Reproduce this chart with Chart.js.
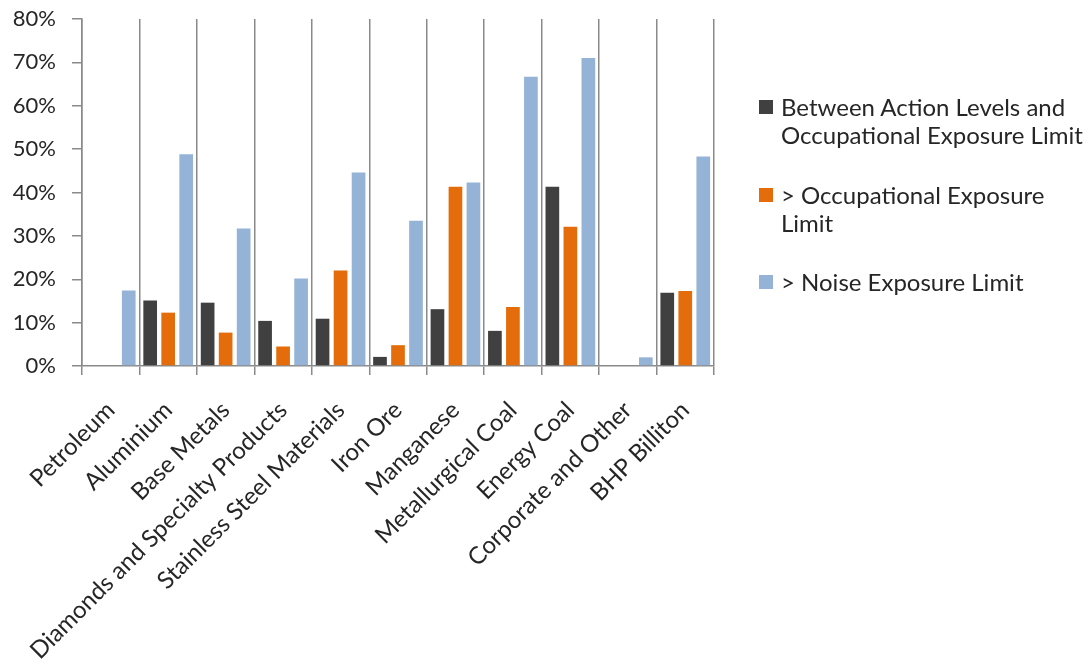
<!DOCTYPE html>
<html>
<head>
<meta charset="utf-8">
<script src="https://cdn.jsdelivr.net/npm/chart.js@4/dist/chart.umd.min.js"></script>
<style>
  html, body { margin: 0; padding: 0; background: #fff; }
  #wrap { position: relative; width: 1089px; height: 664px; }
  #chart { position: absolute; left: 0; top: 0; }
  #legend {
    position: absolute; left: 759px; top: 93px;
    font-family: Lato, "DejaVu Sans", sans-serif; font-size: 24px;
    line-height: 28px; color: #262626;
  }
  .item { position: relative; padding-left: 22px; margin-bottom: 31.5px; white-space: nowrap; }
  .box { position: absolute; left: 0; top: 7px; width: 14px; height: 14px; }
</style>
</head>
<body>
<div id="wrap">
  <canvas id="chart" width="1089" height="664"></canvas>
  <div id="legend"></div>
</div>
<script>
// Business units along the x axis
const categories = [
  'Petroleum', 'Aluminium', 'Base Metals', 'Diamonds and Specialty Products',
  'Stainless Steel Materials', 'Iron Ore', 'Manganese', 'Metallurgical Coal',
  'Energy Coal', 'Corporate and Other', 'BHP Billiton'
];

// Series names, split into the lines shown in the legend
const seriesNames = [
  ['Between Action Levels and', 'Occupational Exposure Limit'],
  ['> Occupational Exposure', 'Limit'],
  ['> Noise Exposure Limit']
];

// Share of workforce (%) per exposure band
const betweenActionAndOEL = [0, 15.1, 14.6, 10.4, 10.9, 2.1, 13.1, 8.1, 41.3, 0, 16.9];
const aboveOEL            = [0, 12.3, 7.7, 4.5, 22.0, 4.8, 41.3, 13.6, 32.1, 0, 17.3];
const aboveNoiseLimit     = [17.4, 48.8, 31.7, 20.2, 44.6, 33.5, 42.3, 66.7, 71.0, 2.0, 48.3];

// Y axis ticks (%)
const yTicks = [0, 10, 20, 30, 40, 50, 60, 70, 80];

const seriesColors = ['#404040', '#E46C0A', '#95B3D7'];
const axisGray = '#8a8a8a';
const fontFamily = 'Lato, "DejaVu Sans", sans-serif';

const seriesValues = [betweenActionAndOEL, aboveOEL, aboveNoiseLimit];

const chart = new Chart(document.getElementById('chart'), {
  type: 'bar',
  data: {
    labels: categories,
    datasets: seriesValues.map((vals, i) => ({
      label: seriesNames[i].join(' '),
      data: vals,
      backgroundColor: seriesColors[i],
      borderWidth: 0,
      categoryPercentage: 0.94,
      barPercentage: 0.76
    }))
  },
  options: {
    responsive: false,
    animation: false,
    devicePixelRatio: 1,
    layout: { padding: { top: 19, right: 375, left: 0, bottom: 0 } },
    plugins: { legend: { display: false }, tooltip: { enabled: false } },
    scales: {
      x: {
        offset: true,
        grid: {
          offset: true, color: axisGray, lineWidth: 1.5,
          drawOnChartArea: true, drawTicks: true, tickLength: 9
        },
        border: { display: true, color: axisGray, width: 1.5 },
        ticks: {
          minRotation: 45, maxRotation: 45, autoSkip: false,
          color: '#262626', padding: 21,
          font: { family: fontFamily, size: 24 }
        },
        afterFit(scale) { scale.height = 298; scale.paddingTop = 0; scale.paddingBottom = 0; }
      },
      y: {
        min: 0, max: 80,
        afterBuildTicks(scale) { scale.ticks = yTicks.map(v => ({ value: v })); },
        grid: {
          drawOnChartArea: false, drawTicks: true, tickLength: 10,
          color: axisGray, lineWidth: 1.5
        },
        border: { display: true, color: axisGray, width: 1.5 },
        ticks: {
          color: '#262626', padding: 16,
          font: { family: fontFamily, size: 22 },
          callback: v => v + '%'
        },
        afterFit(scale) { scale.width = 82; scale.paddingTop = 0; scale.paddingBottom = 0; }
      }
    }
  }
});

// Legend built from the chart's own datasets
const legendEl = document.getElementById('legend');
chart.data.datasets.forEach((ds, i) => {
  const item = document.createElement('div');
  item.className = 'item';
  const box = document.createElement('span');
  box.className = 'box';
  box.style.background = ds.backgroundColor;
  item.appendChild(box);
  seriesNames[i].forEach((line, j) => {
    if (j > 0) item.appendChild(document.createElement('br'));
    item.appendChild(document.createTextNode(line));
  });
  legendEl.appendChild(item);
});
</script>
</body>
</html>
